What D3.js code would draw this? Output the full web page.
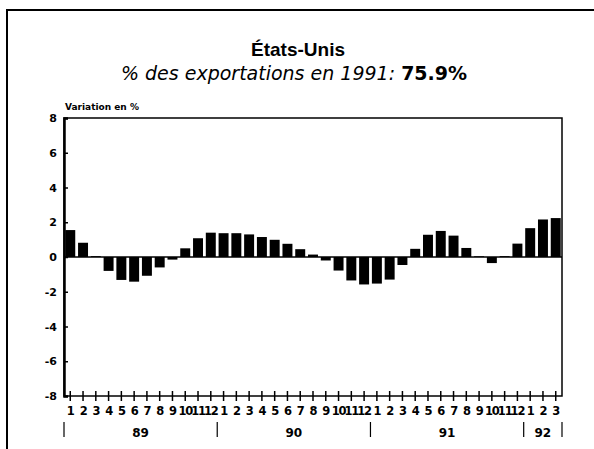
<!DOCTYPE html>
<html>
  <head>
    <meta http-equiv="Content-Type" content="text/html;charset=utf-8"/>
    <title>Etats-Unis</title>
    <script src="https://d3js.org/d3.v7.min.js"></script>
    <style>
      body { margin: 0; background: #fff; }
      svg { font-family: "DejaVu Sans", Arial, sans-serif; }
    </style>
  </head>
  <body>
    <div id="content"></div>
    <script type="text/javascript">

        // monthly variation, Jan 1989 - Mar 1992
        const months = ['1','2','3','4','5','6','7','8','9','10','11','12',
                        '1','2','3','4','5','6','7','8','9','10','11','12',
                        '1','2','3','4','5','6','7','8','9','10','11','12',
                        '1','2','3']
        const years = ['89', '90', '91', '92']
        const yearMonths = [12, 12, 12, 3]
        const values = [1.55, 0.82, 0.05, -0.8, -1.32, -1.42, -1.08, -0.6, -0.15, 0.5, 1.08, 1.4,
                        1.37, 1.37, 1.3, 1.15, 0.99, 0.76, 0.45, 0.14, -0.2, -0.78, -1.35, -1.58,
                        -1.53, -1.3, -0.46, 0.47, 1.28, 1.5, 1.23, 0.52, 0.04, -0.35, 0.05, 0.77,
                        1.66, 2.16, 2.24]
        const yTicks = [-8, -6, -4, -2, 0, 2, 4, 6, 8]

        const width = 594,
            height = 449,
            plotLeft = 64,
            plotRight = 562,
            plotTop = 118,
            plotBottom = 396

        const svg = d3.select('#content').append('svg')
            .attr('width', width).attr('height', height)

        // page frame
        svg.append('path')
            .attr('d', 'M7,449 L7,10 L594,10')
            .attr('fill', 'none').attr('stroke', '#000').attr('stroke-width', 2)

        svg.append('text')
            .attr('x', 298).attr('y', 56)
            .attr('text-anchor', 'middle')
            .style('font-family', '"Liberation Sans", Arial, sans-serif')
            .style('font-size', '19px').style('font-weight', 'bold')
            .text('États-Unis')

        const sub = svg.append('text')
            .attr('x', 294).attr('y', 80)
            .attr('text-anchor', 'middle')
            .style('font-size', '19px')
        sub.append('tspan').style('font-style', 'italic').text('% des exportations en 1991: ')
        sub.append('tspan').style('font-weight', 'bold').text('75.9%')

        svg.append('text')
            .attr('x', 65).attr('y', 110)
            .style('font-size', '9px').style('font-weight', 'bold')
            .text('Variation en %')

        const idx = values.map((d, i) => i)

        const xScale = d3.scaleBand()
            .domain(idx)
            .range([plotLeft, plotRight])
            .paddingInner(0.22)
            .paddingOuter(0.1)

        const yScale = d3.scaleLinear()
            .domain([-8, 8])
            .range([plotBottom, plotTop])

        // bars
        svg.selectAll('rect.bar')
            .data(values)
            .enter()
            .append('rect')
            .attr('class', 'bar')
            .attr('x', (d, i) => xScale(i))
            .attr('width', xScale.bandwidth())
            .attr('y', d => yScale(Math.max(0, d)))
            .attr('height', d => Math.abs(yScale(d) - yScale(0)))
            .style('fill', '#000')

        // zero line
        svg.append('line')
            .attr('x1', plotLeft).attr('x2', plotRight)
            .attr('y1', yScale(0)).attr('y2', yScale(0))
            .attr('stroke', '#000').attr('stroke-width', 1.5)

        // plot box
        svg.append('rect')
            .attr('x', plotLeft).attr('y', plotTop)
            .attr('width', plotRight - plotLeft).attr('height', plotBottom - plotTop)
            .attr('fill', 'none').attr('stroke', '#000').attr('stroke-width', 1.5)

        // y axis
        const yAxis = d3.axisLeft(yScale)
            .tickValues(yTicks)
            .tickSize(-4)
            .tickPadding(7)
            .tickFormat(d => String(d))

        const gy = svg.append('g')
            .attr('transform', 'translate(' + plotLeft + ',0)')
            .call(yAxis)
        gy.select('.domain').attr('stroke-width', 2.5)
        gy.selectAll('.tick line').attr('stroke-width', 1.5)
        gy.selectAll('text')
            .style('font-size', '11px').style('font-weight', 'bold')
            .style('font-family', '"DejaVu Sans", Arial, sans-serif')

        // x axis with cross ticks
        const xAxis = d3.axisBottom(xScale)
            .tickSize(5)
            .tickSizeOuter(0)
            .tickPadding(6)
            .tickFormat(i => months[i])

        const gx = svg.append('g')
            .attr('transform', 'translate(0,' + plotBottom + ')')
            .call(xAxis)
        gx.select('.domain').remove()
        gx.selectAll('.tick line').attr('y1', -5).attr('y2', 5).attr('stroke-width', 1.5)
        gx.selectAll('text')
            .style('font-size', '11.5px').style('font-weight', 'bold')
            .style('letter-spacing', '-1.2px')
            .style('font-family', '"DejaVu Sans", Arial, sans-serif')

        // year labels and separators
        const per = (plotRight - plotLeft) / values.length
        let start = 0
        const boundaries = [0]
        years.forEach((y, k) => {
            const n = yearMonths[k]
            svg.append('text')
                .attr('x', plotLeft + (start + n / 2) * per).attr('y', 437)
                .attr('text-anchor', 'middle')
                .style('font-size', '12px').style('font-weight', 'bold')
                .text(y)
            start += n
            boundaries.push(start)
        })

        svg.selectAll('line.sep')
            .data(boundaries)
            .enter()
            .append('line')
            .attr('class', 'sep')
            .attr('x1', b => plotLeft + b * per)
            .attr('x2', b => plotLeft + b * per)
            .attr('y1', 422).attr('y2', 437)
            .attr('stroke', '#000').attr('stroke-width', 1.2)

    </script>
  </body>
</html>
